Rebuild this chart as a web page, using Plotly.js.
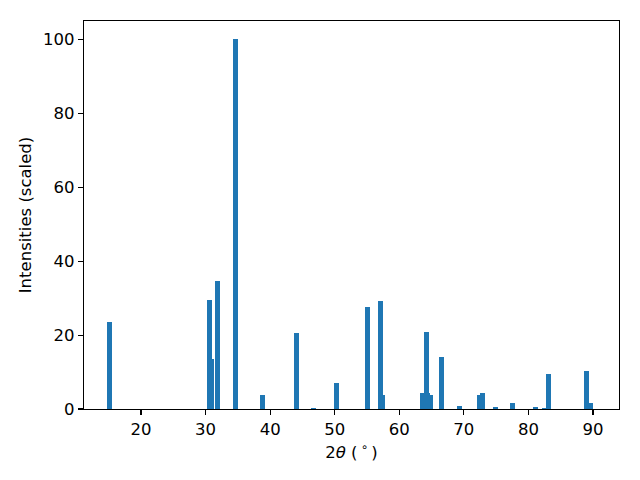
<!DOCTYPE html>
<html>
<head>
<meta charset="utf-8">
<script src="https://cdn.plot.ly/plotly-3.0.1.min.js"></script>
<style>html,body{margin:0;padding:0;background:#fff;}#chart{width:640px;height:480px;}</style>
</head>
<body>
<div id="chart"></div>
<script>
var twoTheta = [15.12, 30.6, 30.92, 31.85, 34.63, 38.8, 44.08, 46.7, 50.28, 55.08, 57.09, 57.4,
                63.64, 64.2, 64.41, 64.88, 66.57, 69.3, 72.46, 72.93, 74.86, 77.57, 81.13, 82.55,
                83.14, 89.02, 89.6];
var intensity = [23.6, 29.5, 13.55, 34.7, 100, 3.8, 20.6, 0.3, 7.0, 27.6, 29.3, 3.8,
                 4.3, 20.9, 4.3, 3.8, 14.1, 0.8, 3.8, 4.3, 0.5, 1.6, 0.6, 0.3,
                 9.5, 10.3, 1.6];
var xTicks = [20, 30, 40, 50, 60, 70, 80, 90];
var yTicks = [0, 20, 40, 60, 80, 100];

var font = {family: 'DejaVu Sans, sans-serif', size: 16.5, color: '#000'};

Plotly.newPlot('chart', [{
  type: 'bar',
  x: twoTheta,
  y: intensity,
  width: 0.8,
  marker: {color: '#1f77b4', line: {width: 0}}
}], {
  width: 640, height: 480,
  margin: {l: 84, r: 21, t: 21, b: 71, pad: 0},
  paper_bgcolor: '#fff', plot_bgcolor: '#fff',
  font: font,
  showlegend: false,
  bargap: 0,
  xaxis: {
    range: [11.17, 94.03],
    tickmode: 'array', tickvals: xTicks,
    ticks: 'outside', ticklen: 5, tickwidth: 1.1, tickcolor: '#000',
    showline: true, linecolor: '#000', linewidth: 1.1, mirror: true,
    showgrid: false, zeroline: false,
    tickfont: font,
    title: {text: '2<i>θ</i> (\u2009<sup>∘</sup>\u2009)', font: font, standoff: 8}
  },
  yaxis: {
    range: [0, 105],
    tickmode: 'array', tickvals: yTicks,
    ticks: 'outside', ticklen: 5, tickwidth: 1.1, tickcolor: '#000',
    showline: true, linecolor: '#000', linewidth: 1.1, mirror: true,
    showgrid: false, zeroline: false,
    tickfont: font,
    title: {text: 'Intensities (scaled)', font: font, standoff: 7}
  }
}, {displayModeBar: false, staticPlot: true});
</script>
</body>
</html>
